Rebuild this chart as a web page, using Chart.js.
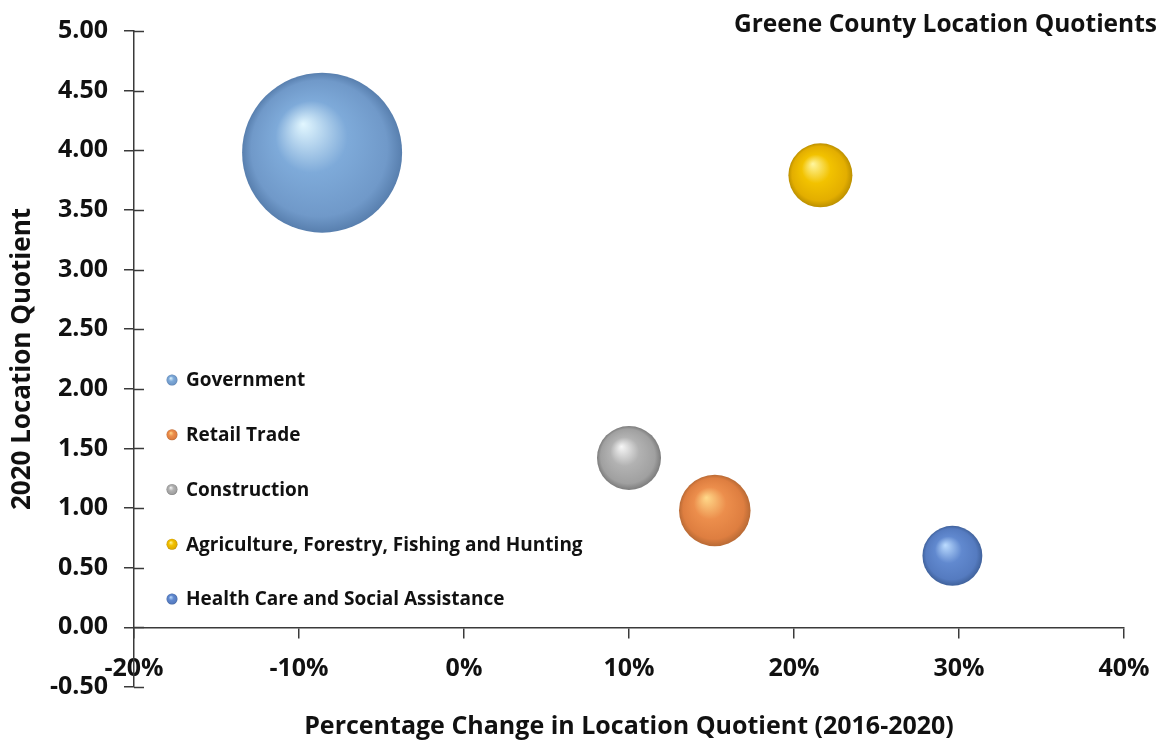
<!DOCTYPE html>
<html><head><meta charset="utf-8">
<script src="https://cdn.jsdelivr.net/npm/chart.js@4.4.0/dist/chart.umd.min.js"></script>
<style>html,body{margin:0;padding:0;background:#fff;} #wrap{width:1161px;height:741px;position:relative;}</style>
</head><body><div id="wrap"><canvas id="c"></canvas></div>
<script>
// ---- data ----
const categories = ['Government', 'Retail Trade', 'Construction', 'Agriculture, Forestry, Fishing and Hunting', 'Health Care and Social Assistance'];
const pctChange = [-8.6, 15.2, 10.0, 21.6, 29.6];        // % change in LQ 2016-2020
const lq2020 = [3.98, 0.98, 1.42, 3.79, 0.60];          // 2020 location quotient
const bubbleSize = [100, 20, 16, 16, 14];               // relative bubble size (estimated)
const xTickValues = [-20, -10, 0, 10, 20, 30, 40];
const yTickValues = [-0.5, 0, 0.5, 1, 1.5, 2, 2.5, 3, 3.5, 4, 4.5, 5];
const chartTitle = 'Greene County Location Quotients';
const xTitle = 'Percentage Change in Location Quotient (2016-2020)';
const yTitle = '2020 Location Quotient';

// ---- style ----
const FONT = "'Open Sans', 'DejaVu Sans', sans-serif";
const MAX_R = 80;
const AXIS = '#3a3a3a';
const palettes = [
  {hi: '#e2f7ff', base: '#7eaad9', mid: '#7099c9', rim: '#587fae'},
  {hi: '#ffd98a', base: '#ec8e4c', mid: '#de7e40', rim: '#b86a35'},
  {hi: '#f7f7f7', base: '#b2b2b2', mid: '#a0a0a0', rim: '#7c7c7c'},
  {hi: '#fff6a0', base: '#f2c200', mid: '#e3ae00', rim: '#bc9000'},
  {hi: '#bcdcff', base: '#6189cf', mid: '#557bc0', rim: '#40629c'}
];
const maxSize = Math.max(...bubbleSize);

function sphere(ctx, cx, cy, r, pal) {
  const g = ctx.createRadialGradient(cx - 0.24 * r, cy - 0.36 * r, 0, cx, cy, r);
  g.addColorStop(0, pal.hi);
  g.addColorStop(0.45, pal.base);
  g.addColorStop(0.85, pal.mid);
  g.addColorStop(1, pal.rim);
  return g;
}

const datasets = categories.map((name, i) => ({
  label: name,
  data: [{x: pctChange[i], y: lq2020[i], r: MAX_R * Math.sqrt(bubbleSize[i] / maxSize)}],
  borderWidth: 0,
  backgroundColor: (ctx) => {
    const pal = palettes[i];
    const ch = ctx.chart;
    if (!ctx.raw || !ch.scales || !ch.scales.x || !ch.chartArea) return pal.base;
    const cx = ch.scales.x.getPixelForValue(ctx.raw.x);
    const cy = ch.scales.y.getPixelForValue(ctx.raw.y);
    return sphere(ch.ctx, cx, cy, ctx.raw.r, pal);
  }
}));

const crossTicks = {
  id: 'crossTicks',
  afterDraw(chart) {
    const y = chart.scales.y, c = chart.ctx, left = chart.chartArea.left;
    c.save();
    c.strokeStyle = AXIS; c.lineWidth = 1.5;
    y.ticks.forEach(t => {
      const py = Math.round(y.getPixelForValue(t.value)) + 0.5;
      c.beginPath(); c.moveTo(left, py); c.lineTo(left + 10, py); c.stroke();
    });
    c.restore();
  }
};

const cornerTitle = {
  id: 'cornerTitle',
  afterDraw(chart) {
    const c = chart.ctx;
    c.save();
    c.font = "bold 24.5px " + FONT;
    c.fillStyle = '#111';
    c.textAlign = 'right';
    c.textBaseline = 'alphabetic';
    c.fillText(chartTitle, chart.width - 4, 32);
    c.restore();
  }
};

const innerLegend = {
  id: 'innerLegend',
  afterDraw(chart) {
    const c = chart.ctx, a = chart.chartArea;
    const x0 = a.left + 38, y0 = a.top + 349, step = 54.75;
    c.save();
    c.font = "bold 19px " + FONT;
    c.textAlign = 'left';
    c.textBaseline = 'middle';
    chart.data.datasets.forEach((ds, i) => {
      const y = y0 + i * step;
      c.beginPath();
      c.arc(x0, y, 5.5, 0, Math.PI * 2);
      c.fillStyle = sphere(c, x0, y, 5.5, palettes[i]);
      c.fill();
      c.fillStyle = '#111';
      c.fillText(ds.label, x0 + 14, y + 1);
    });
    c.restore();
  }
};

new Chart(document.getElementById('c'), {
  type: 'bubble',
  data: {datasets},
  options: {
    responsive: true,
    maintainAspectRatio: false,
    devicePixelRatio: 1,
    animation: false,
    layout: {autoPadding: false, padding: {left: 0, right: 37, top: 27, bottom: 54}},
    plugins: {legend: {display: false}, tooltip: {enabled: false}, title: {display: false}},
    scales: {
      x: {
        type: 'linear',
        min: -20, max: 40,
        position: {y: 0},
        afterFit: s => { s.paddingLeft = 0; s.paddingRight = 0; },
        afterBuildTicks: s => { s.ticks = xTickValues.map(v => ({value: v})); },
        ticks: {
          callback: v => v + '%',
          font: {family: FONT, size: 25, weight: 'bold'},
          color: '#111',
          padding: 17,
          maxRotation: 0,
          autoSkip: false
        },
        grid: {drawOnChartArea: false, drawTicks: true, tickLength: 10, color: AXIS, lineWidth: 1.5},
        border: {display: true, color: AXIS, width: 1.5},
        title: {
          display: true, text: xTitle,
          font: {family: FONT, size: 25, weight: 'bold'},
          color: '#111',
          padding: {top: 11, bottom: 0}
        }
      },
      y: {
        type: 'linear',
        min: -0.5, max: 5,
        position: 'left',
        afterFit: s => { s.width = 134; },
        afterBuildTicks: s => { s.ticks = yTickValues.map(v => ({value: v})); },
        ticks: {
          callback: v => Number(v).toFixed(2),
          font: {family: FONT, size: 25, weight: 'bold'},
          color: '#111',
          padding: 16
        },
        grid: {drawOnChartArea: false, drawTicks: true, tickLength: 10, color: AXIS, lineWidth: 1.5},
        border: {display: true, color: AXIS, width: 1.5},
        title: {
          display: true, text: yTitle,
          font: {family: FONT, size: 26, weight: 'bold'},
          color: '#111',
          padding: {top: 7, bottom: 0}
        }
      }
    }
  },
  plugins: [crossTicks, cornerTitle, innerLegend]
});
</script>
</body></html>
